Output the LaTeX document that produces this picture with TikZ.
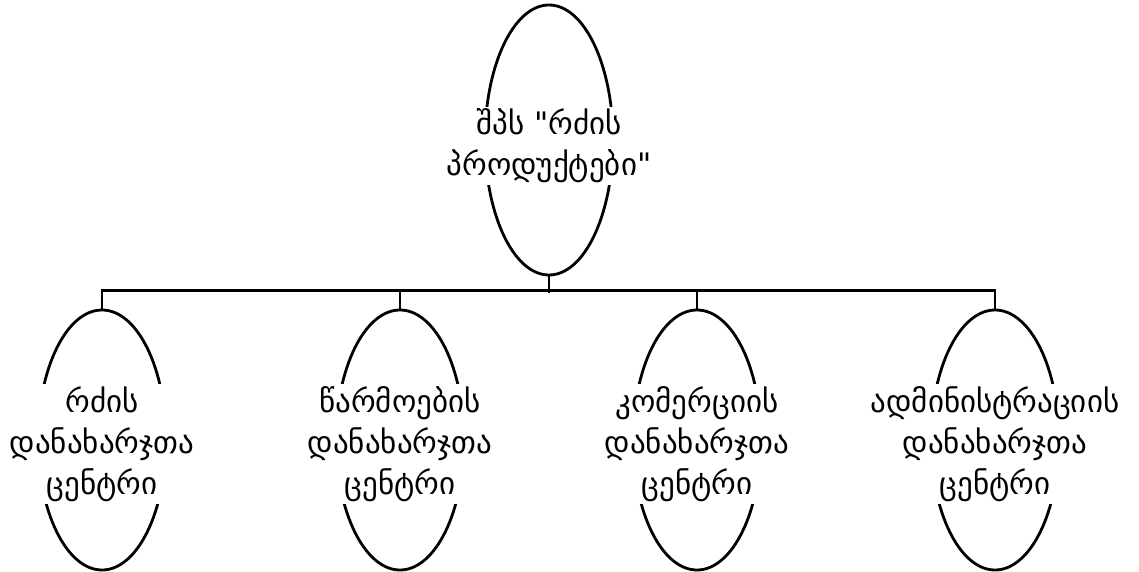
\documentclass[tikz,border=0pt]{standalone}
\usepackage{fontspec}
\newfontfamily\geofont{DejaVu Sans}
\usetikzlibrary{shapes.geometric}

\begin{document}
\begin{tikzpicture}[x=1pt,y=-1pt, every node/.style={font=\geofont\fontsize{31}{41}\selectfont},
 oval/.style={draw,ellipse,line width=2.8pt,minimum width=128pt,minimum height=260pt,inner sep=0pt},
 lbl/.style={fill=white,align=center,inner sep=2pt},
 link/.style={line width=2.8pt}]
\useasboundingbox (0,0) rectangle (1139,572);
\node[oval,minimum height=270pt](top) at (549,140){};
\node[oval](rdz) at (102,440){};
\node[oval](wrm) at (400,440){};
\node[oval](kom) at (697,440){};
\node[oval](adm) at (995,440){};
\node[lbl](ttop) at (549,146){შპს "რძის\\პროდუქტები"};
\node[lbl](trdz) at (102,444){რძის\\დანახარჯთა\\ცენტრი};
\node[lbl](twrm) at (400,444){წარმოების\\დანახარჯთა\\ცენტრი};
\node[lbl](tkom) at (697,444){კომერციის\\დანახარჯთა\\ცენტრი};
\node[lbl](tadm) at (995,444){ადმინისტრაციის\\დანახარჯთა\\ცენტრი};
\draw[link](top.south)--++(0,17);
\draw[link](rdz.north)--++(0,-18)-|(adm.north);
\draw[link](wrm.north)--++(0,-18);\draw[link](kom.north)--++(0,-18);
\end{tikzpicture}
\end{document}
